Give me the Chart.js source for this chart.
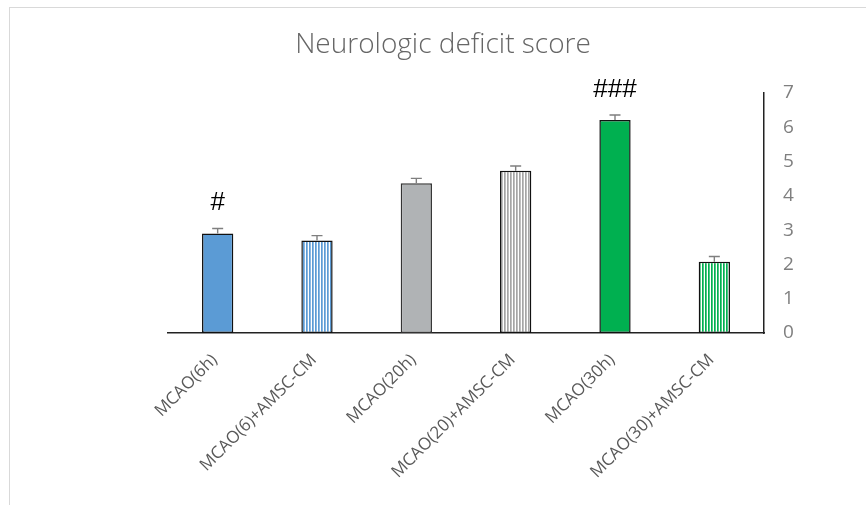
<!DOCTYPE html>
<html>
<head>
<meta charset="utf-8">
<script src="https://cdn.jsdelivr.net/npm/chart.js@4/dist/chart.umd.min.js"></script>
<style>
  html, body { margin: 0; padding: 0; background: #fff; }
  #wrap { width: 866px; height: 505px; position: relative; }
</style>
</head>
<body>
<div id="wrap"><canvas id="c" width="866" height="505"></canvas></div>
<script>
const categories = ['MCAO(6h)', 'MCAO(6)+AMSC-CM', 'MCAO(20h)', 'MCAO(20)+AMSC-CM', 'MCAO(30h)', 'MCAO(30)+AMSC-CM'];
const scores = [2.9, 2.7, 4.37, 4.73, 6.21, 2.08];
const errors = [0.15, 0.14, 0.14, 0.14, 0.15, 0.15];
const marks = ['#', '', '', '', '###', ''];
const yTicks = [0, 1, 2, 3, 4, 5, 6, 7];
const chartTitle = 'Neurologic deficit score';

function stripes(color) {
  const c = document.createElement('canvas');
  c.width = 3; c.height = 4;
  const x = c.getContext('2d');
  x.fillStyle = '#ffffff';
  x.fillRect(0, 0, 3, 4);
  x.fillStyle = color;
  x.fillRect(0, 0, 1.7, 4);
  return x.createPattern(c, 'repeat');
}

const fills = [
  '#5b9bd5',
  stripes('#5b9bd5'),
  '#b0b3b5',
  stripes('#a5a5a5'),
  '#00b050',
  stripes('#00b050')
];
const borders = ['#111', '#111', '#333', '#111', '#111', '#111'];

const framePlugin = {
  id: 'frame',
  beforeDraw(chart) {
    const ctx = chart.ctx;
    ctx.save();
    ctx.strokeStyle = '#d9d9d9';
    ctx.lineWidth = 1;
    ctx.strokeRect(9.5, 7.5, 1000, 1000);
    ctx.fillStyle = '#666666';
    ctx.font = '300 28px "Open Sans"';
    ctx.textAlign = 'center';
    ctx.textBaseline = 'alphabetic';
    ctx.fillText(chartTitle, 443, 53);
    ctx.restore();
  }
};

const errPlugin = {
  id: 'errbars',
  afterDatasetsDraw(chart) {
    const ctx = chart.ctx;
    const y = chart.scales.y;
    const meta = chart.getDatasetMeta(0);
    ctx.save();
    meta.data.forEach((bar, i) => {
      const y0 = y.getPixelForValue(scores[i]);
      const y1 = y.getPixelForValue(scores[i] + errors[i]);
      ctx.strokeStyle = '#7f7f7f';
      ctx.lineWidth = 1.4;
      ctx.beginPath();
      ctx.moveTo(bar.x, y0);
      ctx.lineTo(bar.x, y1);
      ctx.moveTo(bar.x - 5.5, y1);
      ctx.lineTo(bar.x + 5.5, y1);
      ctx.stroke();
      if (marks[i]) {
        ctx.fillStyle = '#000';
        ctx.font = '26px "Liberation Sans"';
        ctx.textAlign = 'center';
        ctx.textBaseline = 'alphabetic';
        ctx.fillText(marks[i], bar.x, y1 - 18);
      }
    });
    ctx.restore();
  }
};

new Chart(document.getElementById('c'), {
  type: 'bar',
  data: {
    labels: categories,
    datasets: [{
      data: scores,
      backgroundColor: fills,
      borderColor: borders,
      borderWidth: 1.5,
      borderSkipped: false,
      categoryPercentage: 1,
      barPercentage: 0.315
    }]
  },
  options: {
    responsive: false,
    animation: false,
    devicePixelRatio: 1,
    layout: { padding: { left: 168, right: 0, top: 93, bottom: 0 } },
    plugins: { legend: { display: false }, tooltip: { enabled: false }, title: { display: false } },
    scales: {
      x: {
        grid: { display: false, drawTicks: false },
        border: { display: true, color: '#222', width: 1.5 },
        ticks: {
          color: '#595959',
          font: { family: 'Open Sans', size: 17 },
          minRotation: 45, maxRotation: 45,
          padding: 17,
          labelOffset: -3
        },
        afterFit(s) { s.height = 172; }
      },
      y: {
        position: 'right',
        min: 0, max: 7,
        afterBuildTicks(s) { s.ticks = yTicks.map(v => ({ value: v })); },
        grid: { display: false, drawTicks: false },
        border: { display: true, color: '#222', width: 1.5 },
        ticks: {
          color: '#7f7f7f',
          font: { family: 'Open Sans', size: 19 },
          padding: 19
        },
        afterFit(s) { s.width = 102; }
      }
    }
  },
  plugins: [framePlugin, errPlugin]
});
</script>
</body>
</html>
